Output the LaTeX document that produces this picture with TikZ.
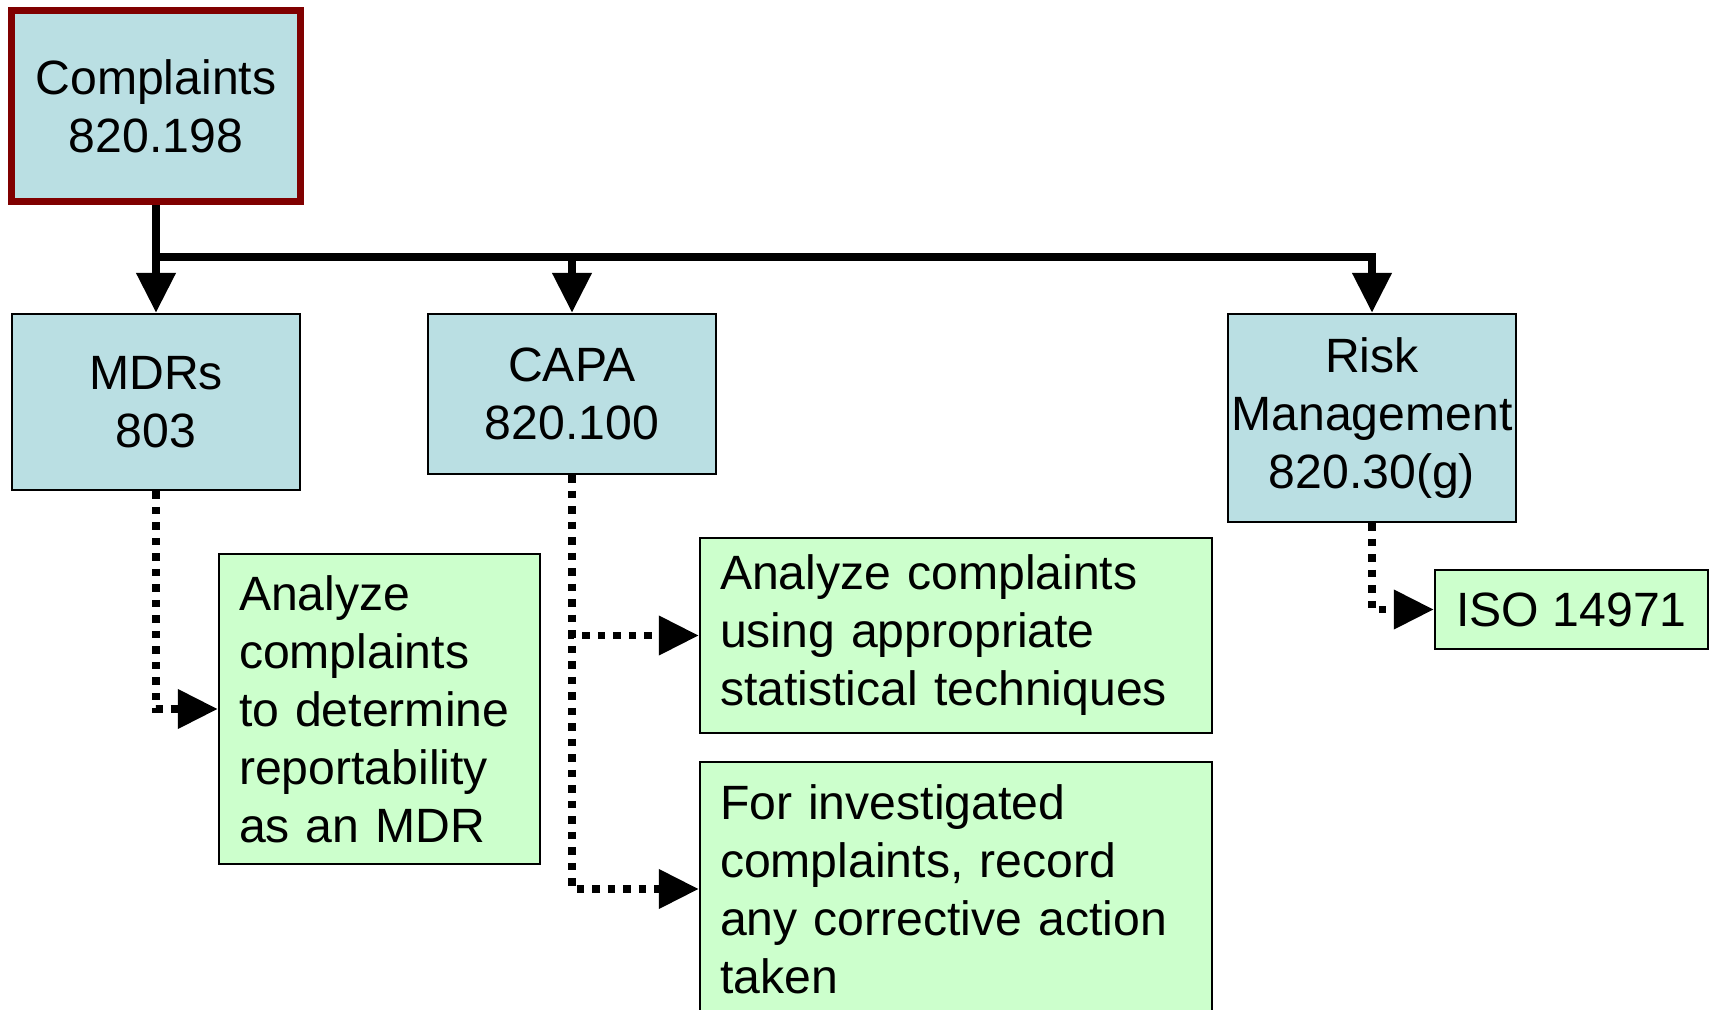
\documentclass[tikz,border=0pt]{standalone}
\usepackage{fontspec}
\setmainfont{Liberation Sans}
\usetikzlibrary{arrows.meta}
\pgfdeclarelayer{bg}
\pgfsetlayers{bg,main}
\definecolor{boxblue}{RGB}{186,223,227}
\definecolor{boxgreen}{RGB}{204,255,204}
\definecolor{boxred}{RGB}{128,0,0}
\tikzset{
  topic/.style={draw=black, line width=0.025cm, fill=boxblue, align=center,
    inner sep=0.03cm, minimum width=2.88cm},
  note/.style={draw=black, line width=0.025cm, fill=boxgreen, align=left,
    inner xsep=0.2cm, inner ysep=0.05cm},
  flow/.style={line width=0.078cm, -{Triangle[length=0.40cm,width=0.38cm]}},
  dotflow/.style={flow, line width=0.075cm, dash pattern=on 0.075cm off 0.08cm},
}

\begin{document}
\begin{tikzpicture}[font=\fontsize{13.7pt}{16.5pt}\selectfont]
        \useasboundingbox (0cm, 0cm) rectangle (17.11cm, -10.10cm);
        \node (v0) [topic, draw=boxred, line width=0.07cm, minimum height=1.91cm] at (1.56cm, -1.06cm) {Complaints\\820.198};
        \node (v1) [topic, minimum height=1.76cm] at (1.56cm, -4.02cm) {MDRs\\803};
        \node (v2) [topic, minimum height=1.60cm] at (5.72cm, -3.94cm) {CAPA\\820.100};
        \node (v3) [topic, minimum height=2.08cm] at (13.72cm, -4.18cm) {Risk\\Management\\820.30(g)};
        \node (v4) [note, text width=2.81cm, minimum height=3.10cm] at (3.795cm, -7.09cm) {Analyze\\complaints\\to determine\\reportability\\as an MDR};
        \node (v5) [note, text width=4.72cm, minimum height=1.95cm] at (9.56cm, -6.355cm) {Analyze complaints\\using appropriate\\statistical techniques};
        \node (v6) [note, text width=4.72cm, minimum height=2.54cm] at (9.56cm, -8.89cm) {For investigated\\complaints, record\\any corrective action\\taken};
        \node (v7) [note, minimum width=2.73cm, minimum height=0.79cm] at (15.715cm, -6.095cm) {ISO 14971};
        \coordinate (s0) at (1.56cm, -2.57cm);
        \begin{pgfonlayer}{bg}
                \draw [flow] (v0.south) -- (v1.north);
                \draw [flow] (s0) -| (v2.north);
                \draw [flow] (s0) -| (v3.north);
                \draw [dotflow] (v1.south) |- (v4.west);
                \draw [dotflow] (v2.south) |- (v5.west);
                \draw [dotflow] (v2.south) |- (v6.west);
                \draw [dotflow] (v3.south) |- (v7.west);
        \end{pgfonlayer}
\end{tikzpicture}
\end{document}
